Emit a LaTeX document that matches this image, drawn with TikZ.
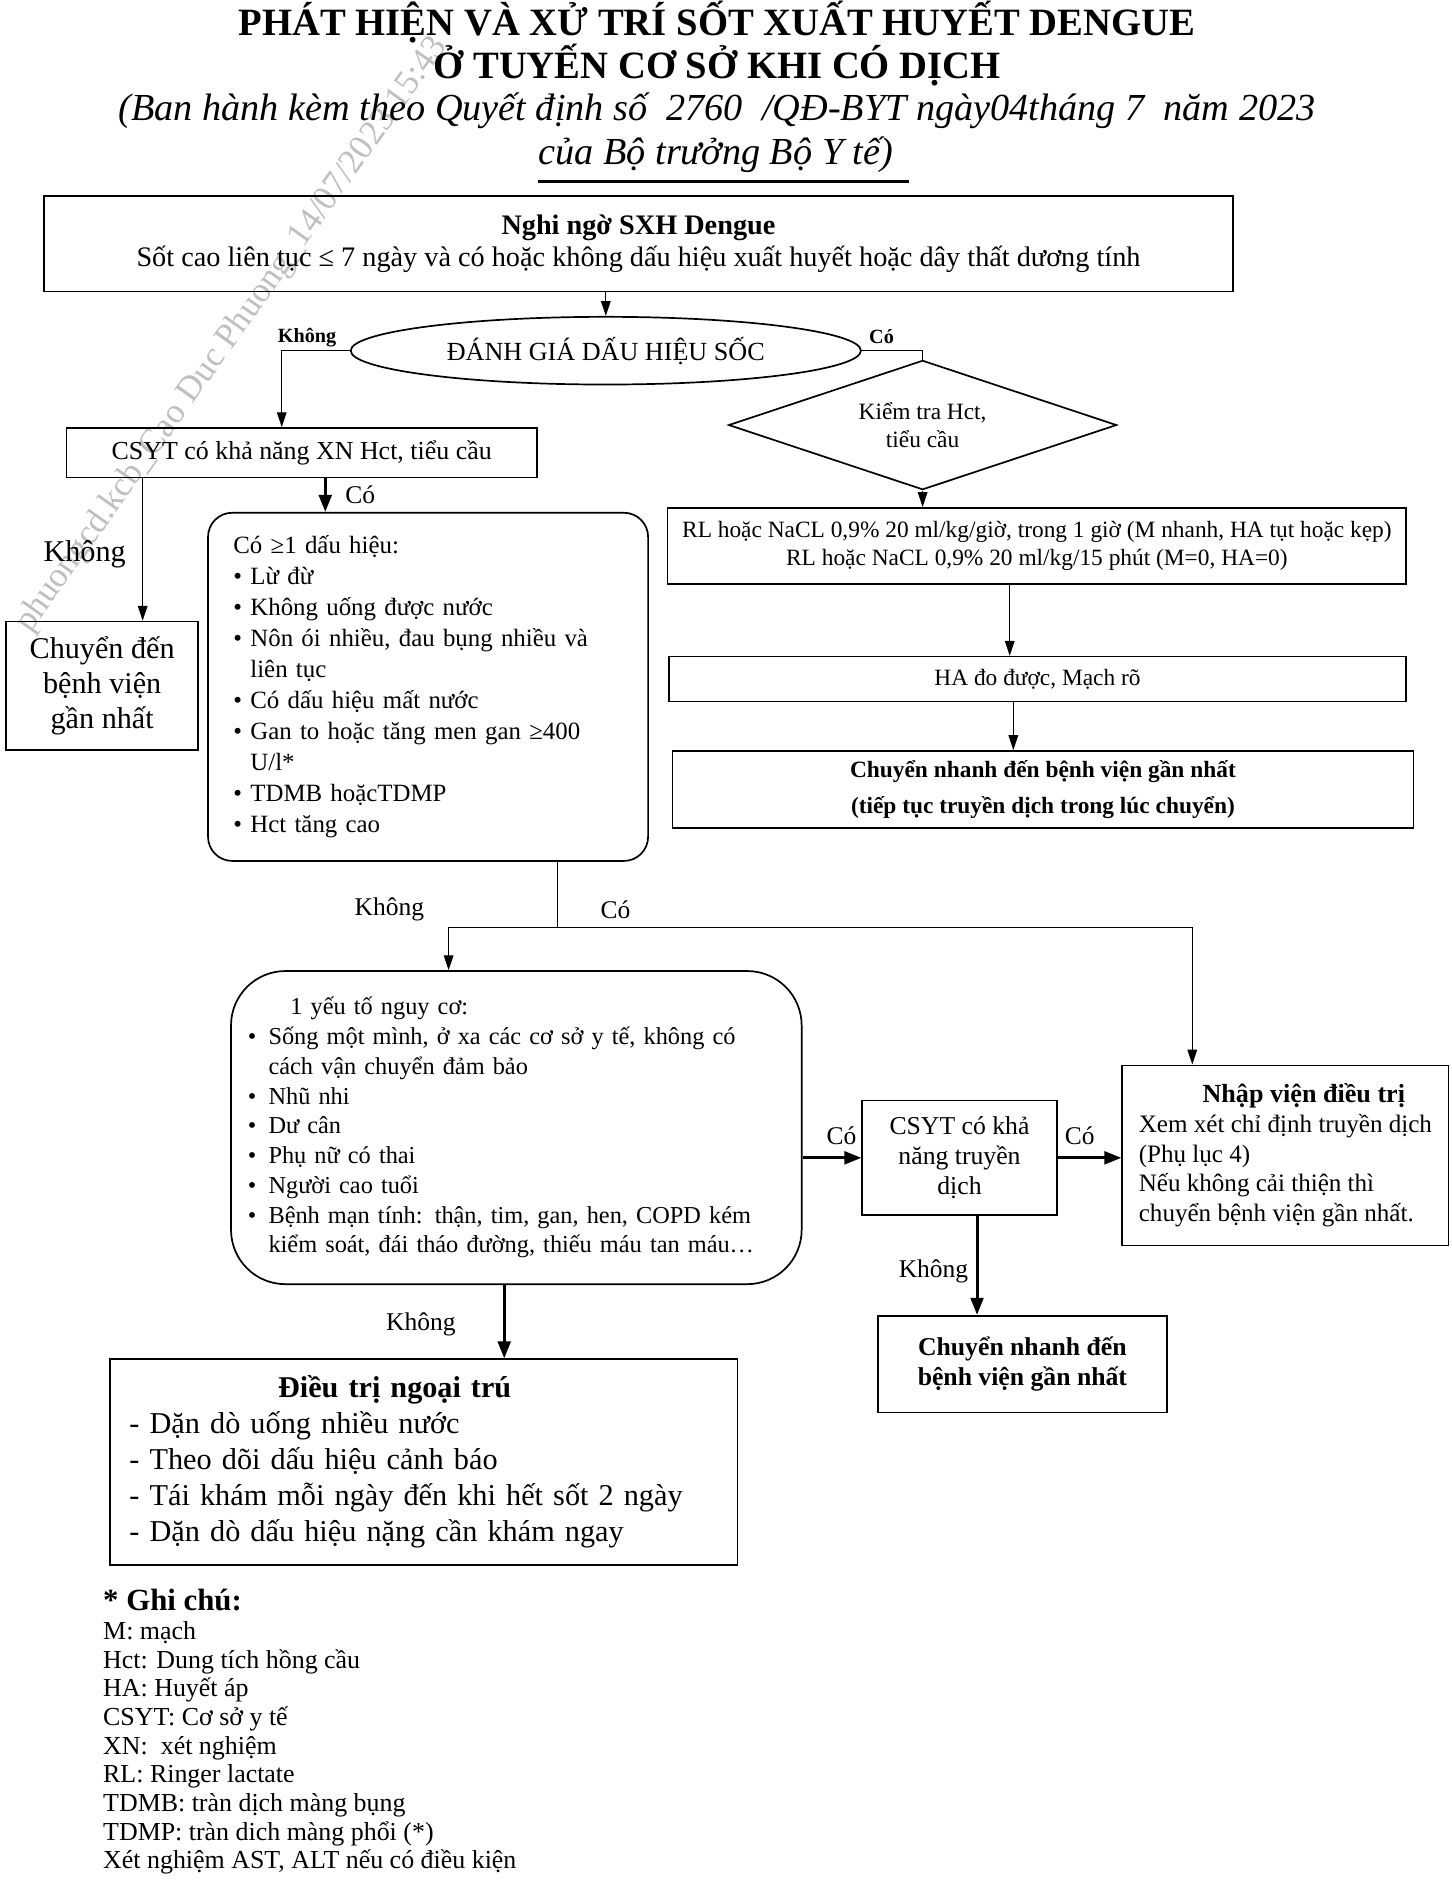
\documentclass[tikz,border=0pt]{standalone}
\usepackage{fontspec}
\setmainfont{Liberation Serif}
\usetikzlibrary{shapes.geometric,arrows.meta}

\begin{document}
\begin{tikzpicture}[x=0.02cm, y=-0.02cm,
    box/.style={draw, line width=0.8pt, inner sep=0pt, font=\fontsize{12.2}{14.8}\selectfont},
    arr/.style={line width=0.6pt, -{Triangle[length=7pt,width=4.5pt]}},
    arrthick/.style={line width=1.4pt, -{Triangle[length=8pt,width=6pt]}},
    lbl/.style={inner sep=0pt, font=\fontsize{12}{14}\selectfont},
    lblsmall/.style={inner sep=0pt, font=\bfseries\fontsize{9.5}{11}\selectfont}]

    % Fix the page to the size of the sheet
    \useasboundingbox (0,0) rectangle (1200,1563);

    % Faint stamp running across the upper left
    \node[rotate=54.6, text=black!25, font=\fontsize{16.5}{19}\selectfont] (stamp) at (192,277) {phuongcd.kcb\_Cao Duc Phuong\_14/07/2023 15:43};

    % Heading
    \node[font=\bfseries\fontsize{18.2}{22}\selectfont] (title1) at (593,18) {PHÁT HIỆN VÀ XỬ TRÍ SỐT XUẤT HUYẾT DENGUE};
    \node[font=\bfseries\fontsize{18.2}{22}\selectfont] (title2) at (593,54) {Ở TUYẾN CƠ SỞ KHI CÓ DỊCH};
    \node[font=\itshape\fontsize{18}{22}\selectfont] (sub1) at (593,92) {(Ban hành kèm theo Quyết định số\ \ 2760\ \ /QĐ-BYT ngày04tháng 7\ \ năm 2023};
    \node[font=\itshape\fontsize{18}{22}\selectfont] (sub2) at (592,128) {của Bộ trưởng Bộ Y tế)};
    \draw[line width=1.4pt] (445,150) -- (752,150);

    % Suspected case
    \node[box, minimum width=19.68cm, minimum height=1.58cm, align=center, font=\fontsize{13.3}{15.4}\selectfont] (suspect) at (528,201.5)
        {\textbf{Nghi ngờ SXH Dengue}\\ Sốt cao liên tục ≤ 7 ngày và có hoặc không dấu hiệu xuất huyết hoặc dây thất dương tính};

    % Shock assessment and the shock branch on the right
    \node[draw, ellipse, line width=0.8pt, minimum width=8.44cm, minimum height=1.12cm, inner sep=0pt, font=\fontsize{12.3}{14}\selectfont] (shock) at (501,290) {ĐÁNH GIÁ DẤU HIỆU SỐC};
    \node[draw, diamond, aspect=3, line width=0.8pt, minimum width=6.42cm, minimum height=2.14cm, inner sep=0pt, align=center, font=\fontsize{11}{13.5}\selectfont] (hct) at (763,351.5) {Kiểm tra Hct,\\ tiểu cầu};
    \node[box, minimum width=12.22cm, minimum height=1.26cm, align=center, font=\fontsize{11}{13.2}\selectfont] (fluid) at (857.5,451.5)
        {RL hoặc NaCL 0,9\% 20 ml/kg/giờ, trong 1 giờ (M nhanh, HA tụt hoặc kẹp)\\ RL hoặc NaCL 0,9\% 20 ml/kg/15 phút (M=0, HA=0)};
    \node[box, minimum width=12.2cm, minimum height=0.74cm, font=\fontsize{11}{13}\selectfont] (bp) at (858,561.5) {HA đo được, Mạch rõ};
    \node[box, minimum width=12.26cm, minimum height=1.28cm, align=center, font=\bfseries\fontsize{11}{17}\selectfont] (transfer) at (862.5,653)
        {Chuyển nhanh đến bệnh viện gần nhất\\ (tiếp tục truyền dịch trong lúc chuyển)};

    % No shock: left column
    \node[box, minimum width=7.78cm, minimum height=0.82cm] (csyt) at (249.5,374.5) {CSYT có khả năng XN Hct, tiểu cầu};
    \node[box, minimum width=3.18cm, minimum height=2.12cm, align=center, font=\fontsize{14.2}{16.5}\selectfont] (nearest) at (84.5,567) {Chuyển đến\\ bệnh viện\\ gần nhất};
    \node[box, rounded corners=0.4cm, minimum width=7.28cm, minimum height=5.76cm, text width=6.44cm, align=left, font=\fontsize{11.7}{14.6}\selectfont] (signs) at (354,568)
        {Có ≥1 dấu hiệu:\\
         • Lừ đừ\\
         • Không uống được nước\\
         • Nôn ói nhiều, đau bụng nhiều và\\
         \phantom{•\ }liên tục\\
         • Có dấu hiệu mất nước\\
         • Gan to hoặc tăng men gan ≥400\\
         \phantom{•\ }U/l*\\
         • TDMB hoặcTDMP\\
         • Hct tăng cao};

    % Risk factors and what follows
    \node[box, rounded corners=0.9cm, minimum width=9.44cm, minimum height=5.18cm, text width=8.88cm, align=left, font=\fontsize{11.45}{14}\selectfont] (risk) at (427,932.5)
        {\hspace*{20pt}1 yếu tố nguy cơ:\\
         \makebox[9.7pt][l]{•}Sống một mình, ở xa các cơ sở y tế, không có\\
         \hspace*{9.7pt}cách vận chuyển đảm bảo\\
         \makebox[9.7pt][l]{•}Nhũ nhi\\
         \makebox[9.7pt][l]{•}Dư cân\\
         \makebox[9.7pt][l]{•}Phụ nữ có thai\\
         \makebox[9.7pt][l]{•}Người cao tuổi\\
         \makebox[9.7pt][l]{•}\makebox[243.5pt][s]{Bệnh mạn tính: thận, tim, gan, hen, COPD kém}\\
         \hspace*{9.7pt}kiểm soát, đái tháo đường, thiếu máu tan máu…};
    \node[box, minimum width=3.22cm, minimum height=1.9cm, align=center, font=\fontsize{12.1}{14.2}\selectfont] (infuse) at (793.5,957.5) {CSYT có khả\\ năng truyền\\ dịch};
    \node[box, minimum width=5.4cm, minimum height=2.98cm, align=left, font=\fontsize{11.8}{14}\selectfont] (admit) at (1063,955.5)
        {\hspace*{30pt}{\bfseries\fontsize{12.3}{14}\selectfont Nhập viện điều trị}\\
         Xem xét chỉ định truyền dịch\\
         (Phụ lục 4)\\
         Nếu không cải thiện thì\\
         chuyển bệnh viện gần nhất.};
    \node[box, minimum width=4.78cm, minimum height=1.6cm, align=center, font=\bfseries\fontsize{12.1}{13.8}\selectfont] (rush) at (845.5,1128) {Chuyển nhanh đến\\ bệnh viện gần nhất};
    \node[box, minimum width=10.38cm, minimum height=3.4cm, text width=9.74cm, align=left, font=\fontsize{14.25}{17}\selectfont] (home) at (350.5,1209)
        {\hspace*{70pt}{\bfseries\fontsize{14.2}{17}\selectfont Điều trị ngoại trú}\\
         - Dặn dò uống nhiều nước\\
         - Theo dõi dấu hiệu cảnh báo\\
         - Tái khám mỗi ngày đến khi hết sốt 2 ngày\\
         - Dặn dò dấu hiệu nặng cần khám ngay};

    % Notes under the chart
    \node[anchor=north west, inner sep=0pt, align=left, font=\fontsize{12.2}{13.5}\selectfont] (notes) at (85,1314)
        {{\bfseries\fontsize{14.5}{16}\selectfont * Ghi chú:}\\
         M: mạch\\
         Hct: Dung tích hồng cầu\\
         HA: Huyết áp\\
         CSYT: Cơ sở y tế\\
         XN:\ \ xét nghiệm\\
         RL: Ringer lactate\\
         TDMB: tràn dịch màng bụng\\
         TDMP: tràn dich màng phổi (*)\\
         Xét nghiệm AST, ALT nếu có điều kiện};

    % Columns where the arrows run
    \coordinate (xcsyt) at (233,0);
    \coordinate (xnear) at (118,0);
    \coordinate (xsigns) at (269,0);
    \coordinate (xfluid) at (835,0);
    \coordinate (xbp) at (838,0);
    \coordinate (split) at (461,767);
    \coordinate (xrisk) at (371,0);
    \coordinate (xadmit) at (986,0);
    \coordinate (xrush) at (808,0);
    \coordinate (xhome) at (417,0);

    % Connectors
    \draw[arr] (shock.north |- suspect.south) -- (shock.north);
    \draw[arr] (shock.west) -| (csyt.north -| xcsyt);
    \draw[line width=0.6pt] (shock.east) -| (hct.north);
    \draw[arr] (hct.south) -- (hct.south |- fluid.north);
    \draw[arr] (fluid.south -| xfluid) -- (bp.north -| xfluid);
    \draw[arr] (bp.south -| xbp) -- (transfer.north -| xbp);
    \draw[arr] (csyt.south -| xnear) -- (nearest.north -| xnear);
    \draw[arrthick] (csyt.south -| xsigns) -- (signs.north -| xsigns);
    \draw[line width=0.6pt] (signs.south -| split) -- (split);
    \draw[arr] (split) -| (risk.north -| xrisk);
    \draw[arr] (split) -| (admit.north -| xadmit);
    \draw[arrthick] (infuse.west -| risk.east) -- (infuse.west);
    \draw[arrthick] (infuse.east) -- (infuse.east -| admit.west);
    \draw[arrthick] (infuse.south -| xrush) -- (rush.north -| xrush);
    \draw[arrthick] (risk.south -| xhome) -- (home.north -| xhome);

    % Branch labels
    \node[lblsmall] (noshock) at (254,279) {Không};
    \node[lblsmall] (yesshock) at (729,278) {Có};
    \node[lbl, font=\fontsize{14.2}{17}\selectfont] (nonear) at (70,458) {Không};
    \node[lbl] (yessigns) at (298,409) {Có};
    \node[lbl] (norisk) at (322,752) {Không};
    \node[lbl] (yesrisk) at (509,752) {Có};
    \node[lbl] (yesinfuse) at (696,939) {Có};
    \node[lbl] (yesadmit) at (893,939) {Có};
    \node[lbl] (norush) at (772,1051) {Không};
    \node[lbl] (nohome) at (348,1095) {Không};

\end{tikzpicture}
\end{document}
